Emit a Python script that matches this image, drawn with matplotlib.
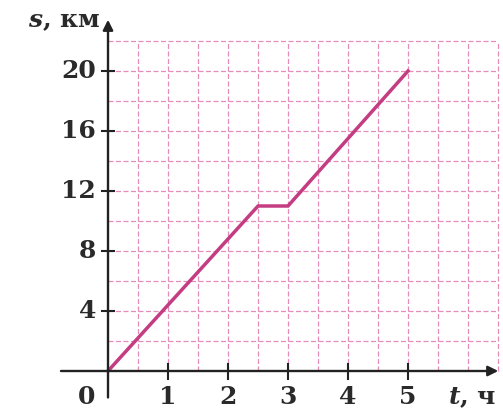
import numpy as np
import matplotlib.pyplot as plt

plt.rcParams['mathtext.fontset'] = 'dejavuserif'

# path: time (h) and distance (km)
t_h = [0, 2.5, 3, 5]
s_km = [0, 11, 11, 20]
x_ticks = [1, 2, 3, 4, 5]
y_ticks = [4, 8, 12, 16, 20]

fig = plt.figure(figsize=(5.03, 4.12), dpi=100)
ax = fig.add_axes([0, 0, 1, 1])
ax.set_xlim(-1.8, 6.583)
ax.set_ylim(-2.733, 24.733)
ax.axis('off')

# pink graph paper
grid_c = '#e48cba'
gx = np.arange(0.5, 6.51, 0.5)
gy = np.arange(2, 22.01, 2)
ax.vlines(gx, 0, 22, colors=grid_c, linestyles=(0, (4, 2)), lw=0.9)
ax.hlines(gy, 0, 6.5, colors=grid_c, linestyles=(0, (4, 2)), lw=0.9)

txt = dict(fontsize=18, family='DejaVu Serif', weight='bold', color='#2a2a2a')

# axes with arrows
ax.annotate('', xy=(6.55, 0), xytext=(-0.83, 0),
            arrowprops=dict(arrowstyle='-|>', color='#222222', lw=1.7, mutation_scale=15))
ax.annotate('', xy=(0, 23.6), xytext=(0, -1.95),
            arrowprops=dict(arrowstyle='-|>', color='#222222', lw=1.7, mutation_scale=15))

# ticks
for x in x_ticks:
    ax.plot([x, x], [-0.5, 0.5], color='#222222', lw=1.5)
    ax.text(x, -0.95, str(x), ha='center', va='top', **txt)
for y in y_ticks:
    ax.plot([-0.1, 0.1], [y, y], color='#222222', lw=1.5)
    ax.text(-0.2, y, str(y), ha='right', va='center', **txt)
ax.text(-0.22, -0.95, '0', ha='right', va='top', **txt)

ax.text(-0.12, 23.3, r'$\mathbfit{s}$, км', ha='right', va='center', **txt)
ax.text(6.47, -0.95, r'$\mathbfit{t}$, ч', ha='right', va='top', **txt)

ax.plot(t_h, s_km, color='#c43c82', lw=2.5, solid_joinstyle='miter')

fig.savefig('out.png', dpi=100)
